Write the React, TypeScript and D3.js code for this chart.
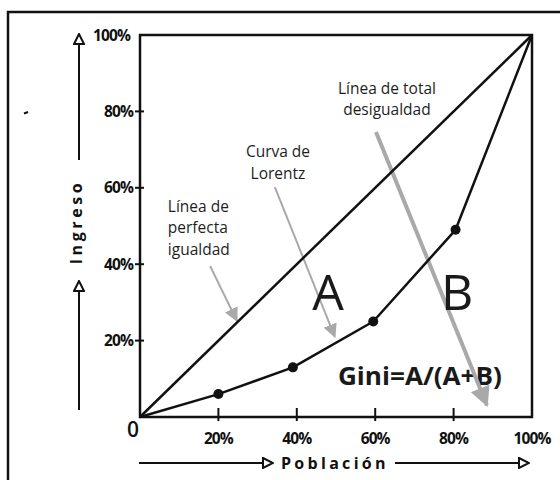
import React from 'react';
import * as d3 from 'd3';

// Lorenz curve points (population %, income %)
const lorenzPob = [0, 20, 39, 59.5, 80.5, 100];
const lorenzIng = [0, 6, 13, 25, 49, 100];

const xTicks = [20, 40, 60, 80, 100];
const yTicks = [20, 40, 60, 80];
const tickLabel = (v: number) => `${v}%`;

// annotation arrows in data space: [x0, y0, x1, y1]
const arrowIgualdad = [17.9, 39.5, 24.7, 25.2];
const arrowLorentz = [34.4, 60.2, 49.7, 21];
const arrowDesigualdad = [60.2, 74.6, 88.5, 3.1];

const labelIgualdad = ['Línea de', 'perfecta', 'igualdad'];
const labelLorentz = ['Curva de', 'Lorentz'];
const labelDesigualdad = ['Línea de total', 'desigualdad'];

const W = 560;
const H = 480;
const font = '"Open Sans", sans-serif';

const App = () => {
  const x = d3.scaleLinear().domain([0, 100]).range([140, 532]);
  const y = d3.scaleLinear().domain([0, 100]).range([417, 35]);

  const pts = lorenzPob.map((p, i) => [p, lorenzIng[i]] as [number, number]);
  const lorenz = d3
    .line<[number, number]>()
    .x((d) => x(d[0]))
    .y((d) => y(d[1]))(pts);

  const grayArrow = (a: number[], w: number, marker: string) => (
    <line
      x1={x(a[0])}
      y1={y(a[1])}
      x2={x(a[2])}
      y2={y(a[3])}
      stroke="#a9a9a9"
      strokeWidth={w}
      markerEnd={`url(#${marker})`}
    />
  );

  const textBlock = (lines: string[], cx: number, by: number, anchor: string) =>
    lines.map((t, i) => (
      <text
        key={t}
        x={cx}
        y={by + i * 21.5}
        textAnchor={anchor}
        fontFamily={font}
        fontSize={15.5}
        fontWeight={500}
        fill="#1e1e1e"
      >
        {t}
      </text>
    ));

  return (
    <svg
      width={W}
      height={H}
      style={{ position: 'absolute', left: 0, top: 0, background: '#fff' }}
    >
      <defs>
        <marker id="open" viewBox="0 0 12 12" refX="11" refY="6" markerWidth="12" markerHeight="12"
          markerUnits="userSpaceOnUse" orient="auto">
          <path d="M1,1 L11,6 L1,11 Z" fill="#fff" stroke="#111" strokeWidth="2" />
        </marker>
        <marker id="grayS" viewBox="0 0 10 10" refX="9" refY="5" markerWidth="7" markerHeight="7"
          orient="auto">
          <path d="M0,0 L10,5 L0,10 Z" fill="#a9a9a9" />
        </marker>
        <marker id="grayL" viewBox="0 0 10 10" refX="9" refY="5" markerWidth="6" markerHeight="5"
          orient="auto">
          <path d="M0,0 L10,5 L0,10 Z" fill="#a9a9a9" />
        </marker>
      </defs>

      {/* outer frame, only left/top visible */}
      <rect x={8} y={12} width={700} height={700} fill="none" stroke="#111" strokeWidth={2.5} />
      <line x1={24} y1={113.5} x2={28} y2={112} stroke="#111" strokeWidth={2} />

      {/* plot box */}
      <rect
        x={x(0)}
        y={y(100)}
        width={x(100) - x(0)}
        height={y(0) - y(100)}
        fill="none"
        stroke="#111"
        strokeWidth={2.5}
      />

      {/* ticks */}
      {xTicks.slice(0, 4).map((t) => (
        <line key={'xt' + t} x1={x(t)} x2={x(t)} y1={y(0) - 9} y2={y(0) + 4} stroke="#111" strokeWidth={2} />
      ))}
      {yTicks.map((t) => (
        <line key={'yt' + t} x1={x(0) - 5} x2={x(0) + 4} y1={y(t)} y2={y(t)} stroke="#111" strokeWidth={2} />
      ))}

      {/* tick labels */}
      {xTicks.map((t) => (
        <text key={'xl' + t} x={x(t)} y={y(0) + 27} textAnchor="middle" fontFamily={font}
          fontWeight={700} fontSize={15.5} fill="#111" letterSpacing={-0.9}>
          {tickLabel(t)}
        </text>
      ))}
      {[...yTicks, 100].map((t) => (
        <text key={'yl' + t} x={t === 100 ? x(0) - 10 : x(0) - 7} y={y(t) + 5.5} textAnchor="end"
          fontFamily={font} fontWeight={700} fontSize={15.5} fill="#111" letterSpacing={-0.9}>
          {tickLabel(t)}
        </text>
      ))}
      <text x={x(0) - 7} y={y(0) + 20} textAnchor="middle" fontFamily={font} fontSize={21}
        fontWeight={600} fill="#111">
        0
      </text>

      {/* axis title arrows */}
      <line x1={79} y1={160} x2={79} y2={34} stroke="#111" strokeWidth={2} markerEnd="url(#open)" />
      <line x1={79} y1={410} x2={79} y2={281} stroke="#111" strokeWidth={2} markerEnd="url(#open)" />
      <text transform="translate(82,222) rotate(-90)" textAnchor="middle" fontFamily={font}
        fontWeight={700} fontSize={16} letterSpacing={3.6} fill="#111">
        Ingreso
      </text>
      <line x1={139} y1={463} x2={273} y2={463} stroke="#111" strokeWidth={2} markerEnd="url(#open)" />
      <line x1={395} y1={463} x2={529} y2={463} stroke="#111" strokeWidth={2} markerEnd="url(#open)" />
      <text x={281} y={469} fontFamily={font} fontWeight={700} fontSize={16} letterSpacing={3.3}
        fill="#111">
        Población
      </text>

      {/* Gini formula */}
      <text x={x(50.5)} y={y(8.4)} fontFamily={font} fontWeight={700} fontSize={25}
        textLength={164} lengthAdjust="spacingAndGlyphs" fill="#1a1a1a">
        Gini=A/(A+B)
      </text>

      {/* gray annotation arrows */}
      {grayArrow(arrowIgualdad, 2, 'grayS')}
      {grayArrow(arrowLorentz, 2, 'grayS')}
      {grayArrow(arrowDesigualdad, 4, 'grayL')}

      {/* equality line, Lorenz curve */}
      <line x1={x(0)} y1={y(0)} x2={x(100)} y2={y(100)} stroke="#111" strokeWidth={2.5} />
      <path d={lorenz ?? ''} fill="none" stroke="#111" strokeWidth={2.5} strokeLinejoin="round" />
      {pts.slice(1, -1).map((d) => (
        <circle key={d[0]} cx={x(d[0])} cy={y(d[1])} r={5} fill="#111" />
      ))}

      {/* area letters */}
      <text x={x(48)} y={y(28)} textAnchor="middle" fontFamily={font} fontSize={50} fill="#1a1a1a">
        A
      </text>
      <text x={x(80.9)} y={y(28)} textAnchor="middle" fontFamily={font} fontSize={50} fill="#1a1a1a">
        B
      </text>

      {/* annotation labels */}
      {textBlock(labelIgualdad, x(7.1), y(53.7), 'start')}
      {textBlock(labelLorentz, x(35.2), y(68), 'middle')}
      {textBlock(labelDesigualdad, x(63), y(84.6), 'middle')}
    </svg>
  );
};

export default App;
